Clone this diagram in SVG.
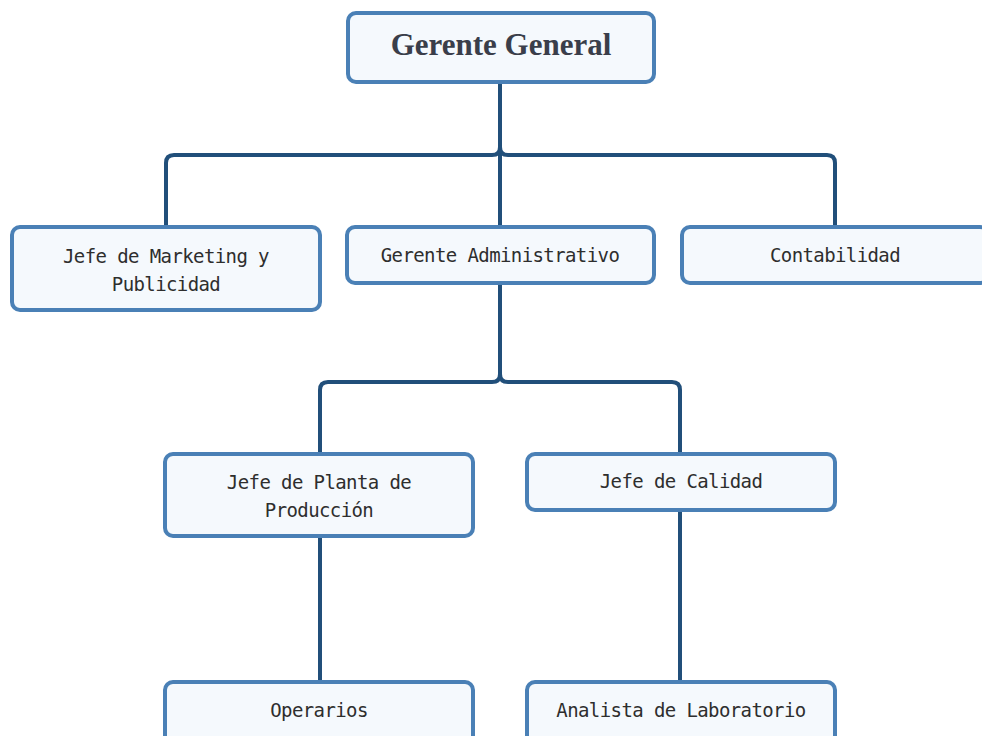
<svg xmlns="http://www.w3.org/2000/svg" width="982" height="736" viewBox="0 0 982 736">
<style>
.box{fill:#f5f9fd;stroke:#4a80b6;stroke-width:4}
.conn{fill:none;stroke:#214f7a;stroke-width:4;stroke-linecap:round;stroke-linejoin:round}
.t{font-family:"DejaVu Sans Mono",monospace;font-size:19px;letter-spacing:-0.6px;fill:#2e2e2e;text-anchor:middle}
.title{font-family:"Liberation Serif",serif;font-weight:bold;font-size:31px;fill:#3a3e4a;text-anchor:middle}
</style>
<rect width="982" height="736" fill="#ffffff"/>
<g id="connectors">
<path class="conn" d="M500,83 V227"/>
<path class="conn" d="M500,147 Q500,155 492,155 H174 Q166,155 166,163 V227"/>
<path class="conn" d="M500,147 Q500,155 508,155 H827 Q835,155 835,163 V227"/>
<path class="conn" d="M500,283 V374"/>
<path class="conn" d="M500,374 Q500,382 492,382 H328 Q320,382 320,390 V454"/>
<path class="conn" d="M500,374 Q500,382 508,382 H672 Q680,382 680,390 V454"/>
<path class="conn" d="M320,536 V682"/>
<path class="conn" d="M680,510 V682"/>
</g>
<g id="gerente-general">
<rect class="box" x="348" y="13" width="306" height="69" rx="8"/>
<text class="title" x="501" y="55">Gerente General</text>
</g>
<g id="jefe-marketing">
<rect class="box" x="12" y="227" width="308" height="83" rx="8"/>
<text class="t" x="166" y="263">Jefe de Marketing y</text>
<text class="t" x="166" y="291">Publicidad</text>
</g>
<g id="gerente-administrativo">
<rect class="box" x="347" y="227" width="307" height="56" rx="8"/>
<text class="t" x="500" y="262">Gerente Administrativo</text>
</g>
<g id="contabilidad">
<rect class="box" x="682" y="227" width="306" height="56" rx="8"/>
<text class="t" x="835" y="262">Contabilidad</text>
</g>
<g id="jefe-planta">
<rect class="box" x="165" y="454" width="308" height="82" rx="8"/>
<text class="t" x="319" y="489">Jefe de Planta de</text>
<text class="t" x="319" y="517">Producción</text>
</g>
<g id="jefe-calidad">
<rect class="box" x="527" y="454" width="308" height="56" rx="8"/>
<text class="t" x="681" y="488">Jefe de Calidad</text>
</g>
<g id="operarios">
<rect class="box" x="165" y="682" width="308" height="80" rx="8"/>
<text class="t" x="319" y="717">Operarios</text>
</g>
<g id="analista">
<rect class="box" x="527" y="682" width="308" height="80" rx="8"/>
<text class="t" x="681" y="717">Analista de Laboratorio</text>
</g>
</svg>
